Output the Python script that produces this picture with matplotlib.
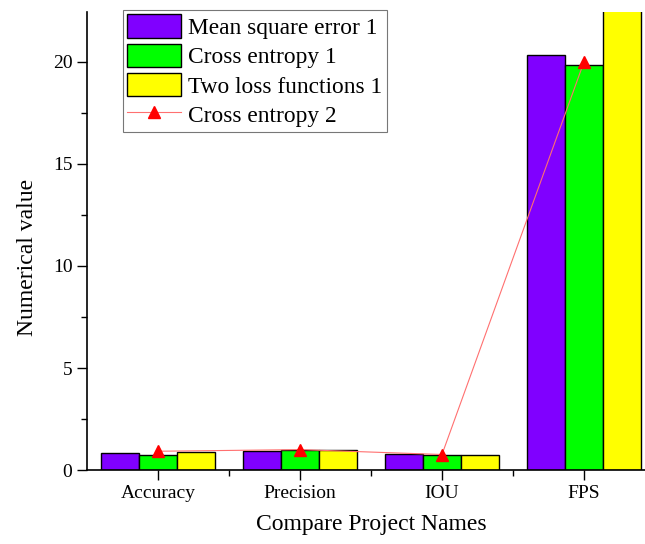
import numpy as np
import matplotlib.pyplot as plt
from matplotlib.ticker import MultipleLocator, FixedLocator

plt.rcParams['font.family'] = ['Liberation Serif', 'DejaVu Serif']

categories = ['Accuracy', 'Precision', 'IOU', 'FPS']
mse_1 = [0.83, 0.95, 0.77, 20.35]
ce_1 = [0.73, 0.98, 0.72, 19.85]
two_loss_1 = [0.90, 0.98, 0.72, 24.0]
ce_2 = [0.92, 1.0, 0.76, 20.0]

x = np.arange(len(categories))
w = 0.268

fig = plt.figure(figsize=(6.45, 5.44), dpi=100)
ax = fig.add_axes([0.135, 0.136, 0.865, 0.842])

b1 = ax.bar(x - w, mse_1, w, color='#8000ff', edgecolor='black', linewidth=1, label='Mean square error 1')
b2 = ax.bar(x, ce_1, w, color='#00ff00', edgecolor='black', linewidth=1, label='Cross entropy 1')
b3 = ax.bar(x + w, two_loss_1, w, color='#ffff00', edgecolor='black', linewidth=1, label='Two loss functions 1')
l1, = ax.plot(x, ce_2, color='#ff7070', linewidth=0.8, marker='^', markersize=9,
              markerfacecolor='red', markeredgecolor='red', label='Cross entropy 2')

ax.set_xlim(-0.5, 3.43)
ax.set_ylim(0, 22.45)
ax.set_xticks(x)
ax.set_xticklabels(categories)
ax.xaxis.set_minor_locator(FixedLocator(x + 0.5))
ax.yaxis.set_major_locator(MultipleLocator(5))
ax.yaxis.set_minor_locator(MultipleLocator(2.5))
ax.tick_params(axis='both', which='major', direction='out', length=7, width=1, labelsize=14)
ax.tick_params(axis='both', which='minor', direction='out', length=4, width=1)
ax.spines['top'].set_visible(False)
ax.spines['right'].set_visible(False)
ax.spines['left'].set_linewidth(1.2)
ax.spines['bottom'].set_linewidth(1.2)

ax.set_xlabel('Compare Project Names', fontsize=17)
ax.set_ylabel('Numerical value', fontsize=17)
ax.xaxis.set_label_coords(0.509, -0.097)
ax.yaxis.set_label_coords(-0.088, 0.465)

leg = ax.legend(handles=[b1, b2, b3, l1], loc='upper left', bbox_to_anchor=(0.064, 1.005),
                fontsize=16.8, frameon=True, fancybox=False, edgecolor='#555555',
                handlelength=2.3, handleheight=1.17, handletextpad=0.3,
                labelspacing=0.2, borderpad=0.2, borderaxespad=0)
leg.get_frame().set_linewidth(0.8)

fig.savefig('out.png', dpi=100)
